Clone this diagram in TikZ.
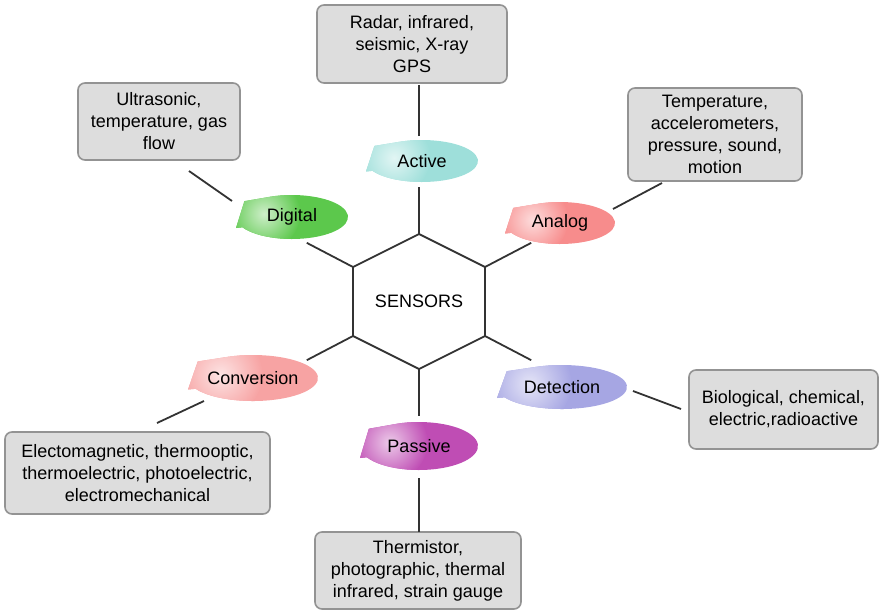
\documentclass[tikz,border=0pt]{standalone}
\usepackage{fontspec}
\setmainfont{Liberation Sans}
\usetikzlibrary{calc}
\definecolor{cdigital}{HTML}{5CC84C}
\definecolor{cactive}{HTML}{9EDFDA}
\definecolor{canalog}{HTML}{F78C8C}
\definecolor{cconv}{HTML}{F7A3A3}
\definecolor{cdetect}{HTML}{A6A6E3}
\definecolor{cpassive}{HTML}{BF4DB4}
\begin{document}
\begin{tikzpicture}[x=1pt,y=-1pt,font=\fontsize{18}{22}\selectfont,
  infobox/.style={draw=gray!85,fill=gray!27,line width=1.6pt,rounded corners=7pt,align=center,inner sep=0},
  link/.style={draw=black!80,line width=1.8pt},
  hexline/.style={draw=black!80,line width=1.8pt,line join=miter}]
\useasboundingbox (0,0) rectangle (880,611);

% hexagon
\coordinate (hc) at (419,301.5);
\foreach \x/\y [count=\i] in {419/234, 485/267, 485/336, 419/369, 353/336, 353/267}{%
  \coordinate (v\i) at (\x,\y);}
\draw[hexline] (v1) -- (v2) -- (v3) -- (v4) -- (v5) -- (v6) -- cycle;
\node (sensors) at (hc) {SENSORS};
\foreach \i in {1,...,6}{%
  \draw[link] (v\i) -- ($(hc)!1.7!(v\i)$);}

% the six coloured tags
\foreach \n/\cx/\cy/\rx/\ry/\col/\txt in {dig/292/217/56/22/cdigital/Digital, act/422/161/56/21/cactive/Active,
  ana/560/223/55/21/canalog/Analog, conv/253/378/65/23/cconv/Conversion,
  det/562/387/65/22/cdetect/Detection, pas/419/446/59/24/cpassive/Passive}{%
  \begin{scope}
  \clip ({\cx-0.85*\rx},{\cy-0.72*\ry}) -- ({\cx-\rx},{\cy+0.5*\ry}) -- ({\cx+\rx*cos(152)},{\cy+\ry*sin(152)})
    arc[start angle=152, end angle=-112, x radius=\rx, y radius=\ry] -- cycle;
  \fill[\col] ({\cx-\rx-2},{\cy-\ry-2}) rectangle ({\cx+\rx+2},{\cy+\ry+2});
  \shade[inner color=white!70!\col, outer color=\col] ({\cx-0.5*\rx},{\cy-0.15*\ry}) circle ({0.65*\rx});
  \end{scope}
  \node (\n) at (\cx,\cy) {\txt};}

% boxes
\node[infobox,minimum width=190,minimum height=78] (radar) at (412,44) {Radar, infrared,\\seismic, X-ray\\GPS};
\node[infobox,minimum width=162,minimum height=77] (ultra) at (159,121.5) {Ultrasonic,\\temperature, gas\\flow};
\node[infobox,minimum width=174,minimum height=93] (temp) at (715,134.5) {Temperature,\\accelerometers,\\pressure, sound,\\motion};
\node[infobox,minimum width=189,minimum height=79] (bio) at (783.5,409.5) {Biological, chemical,\\electric,radioactive};
\node[infobox,minimum width=265,minimum height=82] (elec) at (137.5,473) {Electomagnetic, thermooptic,\\thermoelectric, photoelectric,\\electromechanical};
\node[infobox,minimum width=206,minimum height=77] (therm) at (418,570.5) {Thermistor,\\photographic, thermal\\infrared, strain gauge};

% outer links
\foreach \a/\b/\c/\d [count=\i] in {419/136/419/85, 232/201/189/171, 613/209/662/183,
  204/401/157/423, 633/391/681/409, 419/478/419/532}{%
  \coordinate (p\i) at (\a,\b);
  \coordinate (q\i) at (\c,\d);
  \draw[link] (p\i) -- (q\i);}
\end{tikzpicture}
\end{document}
